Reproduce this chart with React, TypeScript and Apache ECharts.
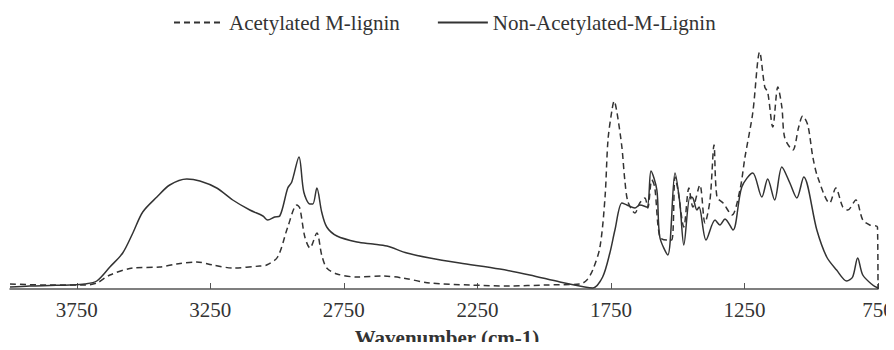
import React, { useEffect, useRef } from "react";
import * as echarts from "echarts";

// FTIR traces, wavenumber (cm-1) vs. relative intensity
const acetylatedWavenumbers = [
  4000, 3851, 3720, 3675, 3626, 3540, 3439, 3376, 3301, 3241, 3166, 3065, 3039, 2998,
  2960, 2926, 2915, 2896, 2877, 2851, 2833, 2814, 2776, 2701, 2604, 2529, 2428, 2278,
  2128, 1997, 1866, 1840, 1818, 1791, 1772, 1761, 1746, 1738, 1727, 1709, 1698, 1686,
  1660, 1642, 1623, 1612, 1597, 1586, 1567, 1541, 1522, 1510, 1499, 1477, 1458, 1443,
  1417, 1398, 1379, 1364, 1353, 1330, 1297, 1267, 1248, 1219, 1193, 1174, 1163, 1144,
  1125, 1110, 1099, 1069, 1047, 1032, 1013, 994, 976, 931, 908, 882, 863, 833, 807, 781,
  752, 750,
];
const acetylatedValues = [
  5, 4, 4, 6, 14, 21, 22, 25, 27, 24, 21, 23, 24, 32,
  62, 84, 81, 52, 41, 56, 34, 21, 15, 12, 13, 11, 6, 4,
  3, 4, 5, 9, 19, 42, 92, 149, 179, 188, 176, 142, 109, 87,
  76, 86, 91, 81, 109, 102, 52, 49, 49, 112, 99, 62, 101, 82,
  104, 66, 89, 144, 92, 86, 74, 99, 132, 176, 237, 202, 197, 162,
  202, 182, 151, 139, 162, 173, 164, 132, 112, 86, 101, 82, 79, 89, 69, 64,
  62, 0,
];

const nonAcetylatedWavenumbers = [
  4000, 3926, 3851, 3776, 3720, 3675, 3626, 3578, 3540, 3503, 3450, 3402, 3338, 3289,
  3226, 3166, 3102, 3053, 3035, 3009, 2990, 2960, 2945, 2918, 2900, 2877, 2866, 2851,
  2833, 2814, 2776, 2701, 2641, 2589, 2514, 2428, 2316, 2166, 2054, 1941, 1848, 1818,
  1781, 1754, 1735, 1709, 1690, 1660, 1642, 1615, 1600, 1578, 1567, 1537, 1510, 1492,
  1477, 1454, 1443, 1428, 1420, 1394, 1360, 1342, 1323, 1293, 1260, 1219, 1185, 1163,
  1137, 1110, 1080, 1054, 1028, 979, 942, 905, 867, 845, 826, 807, 770, 750,
];
const nonAcetylatedValues = [
  2, 3, 3.5, 4, 5, 8, 22, 36, 56, 77, 92, 104, 110, 108,
  101, 89, 79, 73, 69, 72, 73, 101, 107, 132, 97, 85, 85, 101,
  77, 62, 53, 47, 45, 43, 36, 31, 26, 20, 14, 7, 2, 1,
  12, 36, 59, 86, 84, 81, 84, 82, 118, 99, 52, 34, 116, 86,
  44, 92, 91, 79, 82, 49, 69, 64, 70, 59, 102, 116, 92, 110,
  89, 122, 106, 91, 112, 59, 32, 19, 8, 12, 31, 14, 4, 1,
];

const xTicks = [3750, 3250, 2750, 2250, 1750, 1250, 750];
const xAxisTitle = "Wavenumber (cm-1)";

const FONT = "Liberation Serif";
const INK = "#333333";

const pairs = (xs: number[], ys: number[]) => xs.map((x, i) => [x, ys[i]]);

export default function App() {
  const ref = useRef<HTMLDivElement>(null);

  useEffect(() => {
    if (!ref.current) return;
    const chart = echarts.init(ref.current, undefined, { renderer: "svg" });
    chart.setOption({
      animation: false,
      backgroundColor: "#ffffff",
      textStyle: { fontFamily: FONT, color: INK },
      // axis title placed as a bottom caption under the tick labels
      title: {
        text: xAxisTitle,
        left: "center",
        top: 327,
        padding: 0,
        textStyle: { fontFamily: FONT, fontSize: 21, fontWeight: "bold", color: INK },
      },
      legend: {
        top: 7,
        left: 168,
        itemWidth: 50,
        itemHeight: 14,
        itemGap: 37,
        itemStyle: { opacity: 0 },
        textStyle: { fontFamily: FONT, fontSize: 21, color: INK },
        data: ["Acetylated M-lignin", "Non-Acetylated-M-Lignin"],
      },
      grid: { left: 10, right: 16, top: 39, bottom: 61, outerBoundsMode: "none" },
      xAxis: {
        type: "value",
        inverse: true,
        min: 750,
        max: 4000,
        interval: 250,
        axisLine: { lineStyle: { color: "#555555", width: 1.5 } },
        axisTick: {
          inside: true,
          length: 6,
          lineStyle: { color: "#555555", width: 1 },
          customValues: xTicks,
        },
        axisLabel: {
          margin: 10,
          fontFamily: FONT,
          fontSize: 21,
          color: INK,
          customValues: xTicks,
          formatter: (v: number) => String(v),
        },
        splitLine: { show: false },
      },
      yAxis: {
        type: "value",
        min: 0,
        max: 250,
        show: false,
      },
      series: [
        {
          name: "Acetylated M-lignin",
          type: "line",
          symbol: "none",
          smooth: 0.3,
          data: pairs(acetylatedWavenumbers, acetylatedValues),
          lineStyle: { color: INK, width: 1.5, type: [6, 4] },
          itemStyle: { color: INK },
          z: 3,
        },
        {
          name: "Non-Acetylated-M-Lignin",
          type: "line",
          symbol: "none",
          smooth: 0.3,
          data: pairs(nonAcetylatedWavenumbers, nonAcetylatedValues),
          lineStyle: { color: INK, width: 1.5 },
          itemStyle: { color: INK },
          z: 2,
        },
      ],
    });
    return () => chart.dispose();
  }, []);

  return <div ref={ref} style={{ width: 894, height: 350, margin: -8 }} />;
}
